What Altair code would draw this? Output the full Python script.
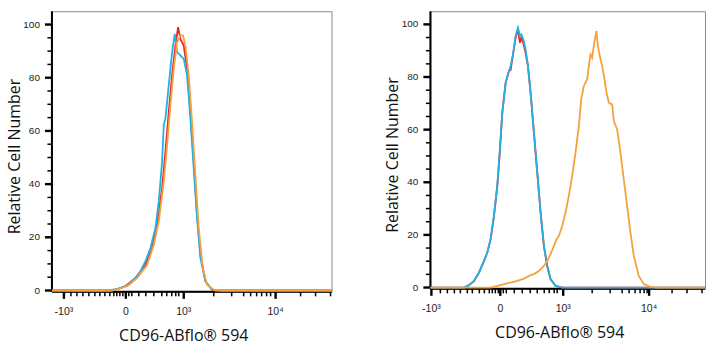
import altair as alt
import pandas as pd

# ---------------- data (x in display channel units 0-1000, y relative cell number) ----------------
# Left panel
L_red_x = [0, 215.5, 263.1, 298.8, 334.5, 358.3, 376.2, 394.0, 406.0, 417.9, 429.8, 441.7, 451.2, 459.5, 471.4,
           483.3, 495.2, 507.1, 519.0, 531.0, 548.8, 572.6, 596.4, 1000]
L_red_y = [0, 0, 1.6, 4.7, 9.7, 16.0, 24.7, 38.5, 52.2, 67.2, 80.9, 92.1, 99.0, 94.6, 92.1,
           83.4, 67.2, 48.4, 28.5, 13.5, 3.5, 0.25, 0, 0]

L_cyan_x = [0, 203.6, 239.3, 275.0, 310.7, 334.5, 352.4, 370.2, 382.1, 394.0, 400.0, 406.0, 417.9, 429.8, 439.3,
            447.6, 459.5, 471.4, 483.3, 495.2, 507.1, 519.0, 531.0, 548.8, 566.7, 584.5, 1000]
L_cyan_y = [0, 0, 0.75, 2.2, 6.0, 11.0, 16.0, 23.5, 33.5, 48.4, 62.2, 64.7, 77.2, 89.6, 96.5,
            89.6, 88.4, 87.1, 80.9, 64.7, 45.9, 27.2, 12.2, 3.5, 1.0, 0, 0]

L_orange_x = [0, 215.5, 269.0, 304.8, 340.5, 364.3, 382.1, 400.0, 411.9, 423.8, 435.7, 447.6, 459.5, 469.0, 477.4,
              489.3, 501.2, 513.1, 525.0, 539.3, 554.8, 578.6, 614.3, 1000]
L_orange_y = [0, 0, 1.6, 4.7, 9.7, 17.2, 26.0, 41.0, 54.7, 69.7, 83.4, 93.4, 95.9, 95.9, 92.1,
              80.9, 63.4, 43.4, 23.5, 8.5, 2.2, 0.25, 0, 0]

# Right panel
R_red_x = [0, 122.4, 140.6, 158.8, 177.0, 195.2, 207.3, 219.4, 231.5, 243.6, 253.3, 261.8, 273.9, 286.1, 292.1,
           301.8, 310.3, 318.8, 326.1, 330.9, 338.2, 346.7, 355.2, 364.8, 377.0, 389.1, 401.2, 413.3, 425.5,
           437.6, 455.8, 480.0, 1000]
R_red_y = [0, 0, 0.9, 2.5, 5.7, 10.1, 13.3, 18.4, 27.2, 38.6, 52.5, 66.5, 77.8, 82.3, 82.7,
           89.2, 94.9, 98.1, 93.0, 94.9, 93.0, 89.2, 84.2, 74.1, 58.9, 43.7, 28.5, 15.8, 8.2,
           3.2, 0.6, 0, 0]

R_cyan_x = [0, 122.4, 140.6, 158.8, 177.0, 195.2, 207.3, 219.4, 231.5, 243.6, 253.3, 261.8, 273.9, 286.1, 292.1,
            301.8, 310.3, 318.8, 326.1, 330.9, 338.2, 346.7, 355.2, 364.8, 377.0, 389.1, 401.2, 413.3, 425.5,
            437.6, 455.8, 480.0, 1000]
R_cyan_y = [0, 0, 0.9, 2.5, 5.7, 10.1, 13.3, 18.4, 27.2, 38.6, 52.5, 66.5, 77.8, 82.3, 84.2,
            89.2, 95.6, 98.7, 95.6, 96.2, 94.3, 90.5, 84.2, 74.1, 58.9, 43.7, 28.5, 15.8, 8.2,
            3.2, 0.6, 0, 0]

R_orange_x = [0, 219.4, 243.6, 267.9, 292.1, 316.4, 340.6, 364.8, 377.0, 395.2, 413.3, 425.5, 437.6, 449.7, 459.4,
              467.9, 480.0, 492.1, 504.2, 516.4, 528.5, 540.6, 549.1, 558.8, 570.9, 577.0, 583.0, 589.1, 597.6,
              604.8, 609.7, 617.0, 625.5, 633.9, 641.2, 649.7, 661.8, 667.9, 680.0, 692.1, 704.2, 716.4, 728.5,
              740.6, 758.8, 777.0, 801.2, 825.5, 1000]
R_orange_y = [0, 0, 0.6, 1.3, 1.9, 2.5, 3.4, 4.7, 5.1, 6.3, 8.2, 10.1, 12.7, 15.8, 18.4,
              19.6, 23.4, 28.5, 34.8, 42.4, 51.3, 61.4, 71.5, 76.6, 79.1, 84.2, 88.6, 87.3, 93.7,
              97.5, 91.8, 88.0, 84.2, 79.1, 74.1, 70.3, 69.6, 63.3, 60.1, 51.3, 41.1, 31.0, 20.9,
              12.0, 4.4, 1.3, 0.25, 0, 0]

# axis ticks (display channel units) and labels
x_tick_labels = ["-10³", "0", "10³", "10⁴"]
L_major = [42.9, 264.3, 471.4, 800.0]
L_minor = [67.9, 89.3, 110.7, 132.1, 153.6, 171.4, 189.3, 207.1, 221.4, 232.1, 242.9, 253.6, 275.0, 285.7,
           310.7, 335.7, 364.3, 392.9, 410.7, 428.6, 442.9, 453.6,
           578.6, 642.9, 685.7, 710.7, 732.1, 750.0, 767.9, 782.1, 889.3, 942.9, 996.4]
R_major = [3.6, 254.5, 483.6, 796.4]
R_minor = [36.4, 61.8, 87.3, 109.1, 134.5, 152.7, 178.2, 196.4, 214.5, 225.5, 236.4, 247.3, 265.5, 276.4,
           305.5, 334.5, 363.6, 389.1, 414.5, 432.7, 450.9, 461.8,
           589.1, 654.5, 698.2, 723.6, 745.5, 763.6, 778.2, 789.1, 880.0, 934.5, 989.1]
y_major = [0, 20, 40, 60, 80, 100]
y_minor = [5, 10, 15, 25, 30, 35, 45, 50, 55, 65, 70, 75, 85, 90, 95]

series_order = ["red", "cyan", "orange"]
colors = ["#e8262b", "#1fb2e6", "#f5a13e"]

X_TITLE = "CD96-ABflo® 594"
Y_TITLE = "Relative Cell Number"
LABEL_FONT = "Liberation Sans"
TITLE_FONT = "Open Sans"
MAJOR_LEN, MINOR_LEN = 7, 4.5


def frame(xs, ys, name):
    return pd.DataFrame({"x": xs, "y": ys, "s": name, "i": range(len(xs))})


def panel(data, major, minor, w, h):
    xscale = alt.Scale(domain=[0, 1000], nice=False, zero=False)
    yscale = alt.Scale(domain=[-0.5, 105], nice=False, zero=False)
    color = alt.Color("s:N", scale=alt.Scale(domain=series_order, range=colors), legend=None)

    lines = alt.Chart(data).mark_line(strokeWidth=1.8, interpolate="linear").encode(
        x=alt.X("x:Q", scale=xscale, axis=None),
        y=alt.Y("y:Q", scale=yscale, axis=None),
        color=color,
        order=alt.Order("i:Q"),
        detail="s:N",
    )

    def xticks(vals, length, width):
        return alt.Chart(pd.DataFrame({"t": vals})).mark_rule(color="#000", strokeWidth=width).encode(
            x=alt.X("t:Q", scale=xscale, axis=None),
            y=alt.value(h), y2=alt.value(h + length))

    def yticks(vals, length, width):
        return alt.Chart(pd.DataFrame({"t": vals})).mark_rule(color="#000", strokeWidth=width).encode(
            y=alt.Y("t:Q", scale=yscale, axis=None),
            x=alt.value(0), x2=alt.value(-length))

    xdomain = alt.Chart(pd.DataFrame({"t": [0]})).mark_rule(color="#000", strokeWidth=2).encode(
        x=alt.value(0), x2=alt.value(w), y=alt.value(h))
    ydomain = alt.Chart(pd.DataFrame({"t": [0]})).mark_rule(color="#000", strokeWidth=2).encode(
        y=alt.value(0), y2=alt.value(h), x=alt.value(0))

    xlabels = alt.Chart(pd.DataFrame({"t": major, "lab": x_tick_labels})).mark_text(
        font=LABEL_FONT, fontSize=10.5, color="#222", align="center", baseline="middle"
    ).encode(x=alt.X("t:Q", scale=xscale, axis=None), y=alt.value(h + 20), text="lab:N")

    ylabels = alt.Chart(pd.DataFrame({"t": y_major, "lab": [str(v) for v in y_major]})).mark_text(
        font=LABEL_FONT, fontSize=10, color="#222", align="right", baseline="middle"
    ).encode(y=alt.Y("t:Q", scale=yscale, axis=None), x=alt.value(-12), text="lab:N")

    xtitle = alt.Chart(pd.DataFrame({"lab": [X_TITLE]})).mark_text(
        font=TITLE_FONT, fontSize=16, color="#111", align="center", baseline="middle"
    ).encode(x=alt.value(w / 2 - 8), y=alt.value(h + 44), text="lab:N")

    ytitle = alt.Chart(pd.DataFrame({"lab": [Y_TITLE]})).mark_text(
        font=TITLE_FONT, fontSize=16, color="#111", align="center", baseline="middle", angle=270
    ).encode(x=alt.value(-37), y=alt.value(h / 2 + 5), text="lab:N")

    return alt.layer(
        xticks(minor, MINOR_LEN, 1.5), xticks(major, MAJOR_LEN, 2.4),
        yticks(y_minor, MINOR_LEN, 1.5), yticks(y_major, MAJOR_LEN, 2.4),
        xdomain, ydomain,
        xlabels, ylabels, xtitle, ytitle,
        lines,
    ).properties(width=w, height=h)


left_data = pd.concat([frame(L_red_x, L_red_y, "red"), frame(L_cyan_x, L_cyan_y, "cyan"),
                       frame(L_orange_x, L_orange_y, "orange")])
right_data = pd.concat([frame(R_red_x, R_red_y, "red"), frame(R_cyan_x, R_cyan_y, "cyan"),
                        frame(R_orange_x, R_orange_y, "orange")])

chart = alt.hconcat(
    panel(left_data, L_major, L_minor, 280, 281),
    panel(right_data, R_major, R_minor, 275, 278),
    spacing=48,
).properties(
    padding={"left": 6, "top": 9, "right": 5, "bottom": 4},
    background="white",
).configure_view(stroke="#8a8a8a", strokeWidth=1)

chart.save("out.html", embed_options={"renderer": "svg", "actions": False})
